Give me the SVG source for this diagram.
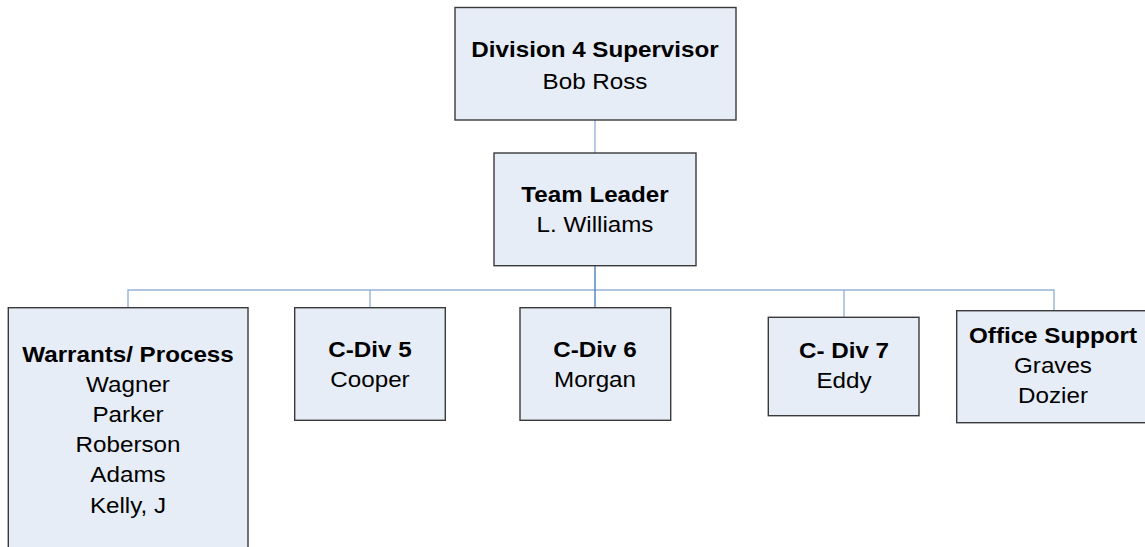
<svg xmlns="http://www.w3.org/2000/svg" width="1145" height="547" viewBox="0 0 1145 547">
  <style>
    .box { fill: #E7EDF7; stroke: #3A3A3A; stroke-width: 1.4; }
    .link { fill: none; stroke: #95B3D7; stroke-width: 1.4; }
    .trunk { fill: none; stroke: #4F81BD; stroke-width: 1.4; }
    text { font-family: "Liberation Sans", Arial, sans-serif; font-size: 22px; fill: #000; text-anchor: middle; }
    .t { font-weight: bold; }
  </style>
  <rect width="1145" height="547" fill="#FFFFFF"/>

  <!-- connectors -->
  <g id="connectors">
    <line class="link" x1="595" y1="120" x2="595" y2="153"/>
    <polyline class="link" points="128,307.7 128,290 1054,290 1054,310.7"/>
    <line class="link" x1="370" y1="290" x2="370" y2="307.7"/>
    <line class="link" x1="844" y1="290" x2="844" y2="317.3"/>
    <line class="trunk" x1="595" y1="265.7" x2="595" y2="307.7"/>
  </g>

  <g id="supervisor">
    <rect class="box" x="455" y="7.5" width="281" height="112.5"/>
    <g transform="translate(595,0) scale(1.1,1)">
      <text class="t" x="0" y="56.7">Division 4 Supervisor</text>
      <text x="0" y="89.3">Bob Ross</text>
    </g>
  </g>

  <g id="team-leader">
    <rect class="box" x="494" y="153" width="202" height="112.7"/>
    <g transform="translate(595,0) scale(1.1,1)">
      <text class="t" x="0" y="201.7">Team Leader</text>
      <text x="0" y="231.7">L. Williams</text>
    </g>
  </g>

  <g id="warrants">
    <rect class="box" x="8.3" y="307.7" width="239.7" height="250"/>
    <g transform="translate(128,0) scale(1.1,1)">
      <text class="t" x="0" y="361.7">Warrants/ Process</text>
      <text x="0" y="391.9">Wagner</text>
      <text x="0" y="422.1">Parker</text>
      <text x="0" y="452.3">Roberson</text>
      <text x="0" y="482.5">Adams</text>
      <text x="0" y="512.7">Kelly, J</text>
    </g>
  </g>

  <g id="c-div-5">
    <rect class="box" x="294.7" y="307.7" width="150.6" height="112.6"/>
    <g transform="translate(370,0) scale(1.1,1)">
      <text class="t" x="0" y="356.7">C-Div 5</text>
      <text x="0" y="386.7">Cooper</text>
    </g>
  </g>

  <g id="c-div-6">
    <rect class="box" x="520" y="307.7" width="150.7" height="112.6"/>
    <g transform="translate(595,0) scale(1.1,1)">
      <text class="t" x="0" y="356.7">C-Div 6</text>
      <text x="0" y="386.7">Morgan</text>
    </g>
  </g>

  <g id="c-div-7">
    <rect class="box" x="768.3" y="317.3" width="150.7" height="98.4"/>
    <g transform="translate(844,0) scale(1.1,1)">
      <text class="t" x="0" y="358.3">C- Div 7</text>
      <text x="0" y="388.3">Eddy</text>
    </g>
  </g>

  <g id="office-support">
    <rect class="box" x="956.7" y="310.7" width="200" height="112"/>
    <g transform="translate(1053,0) scale(1.1,1)">
      <text class="t" x="0" y="343.3">Office Support</text>
      <text x="0" y="373.3">Graves</text>
      <text x="0" y="403.3">Dozier</text>
    </g>
  </g>
</svg>
